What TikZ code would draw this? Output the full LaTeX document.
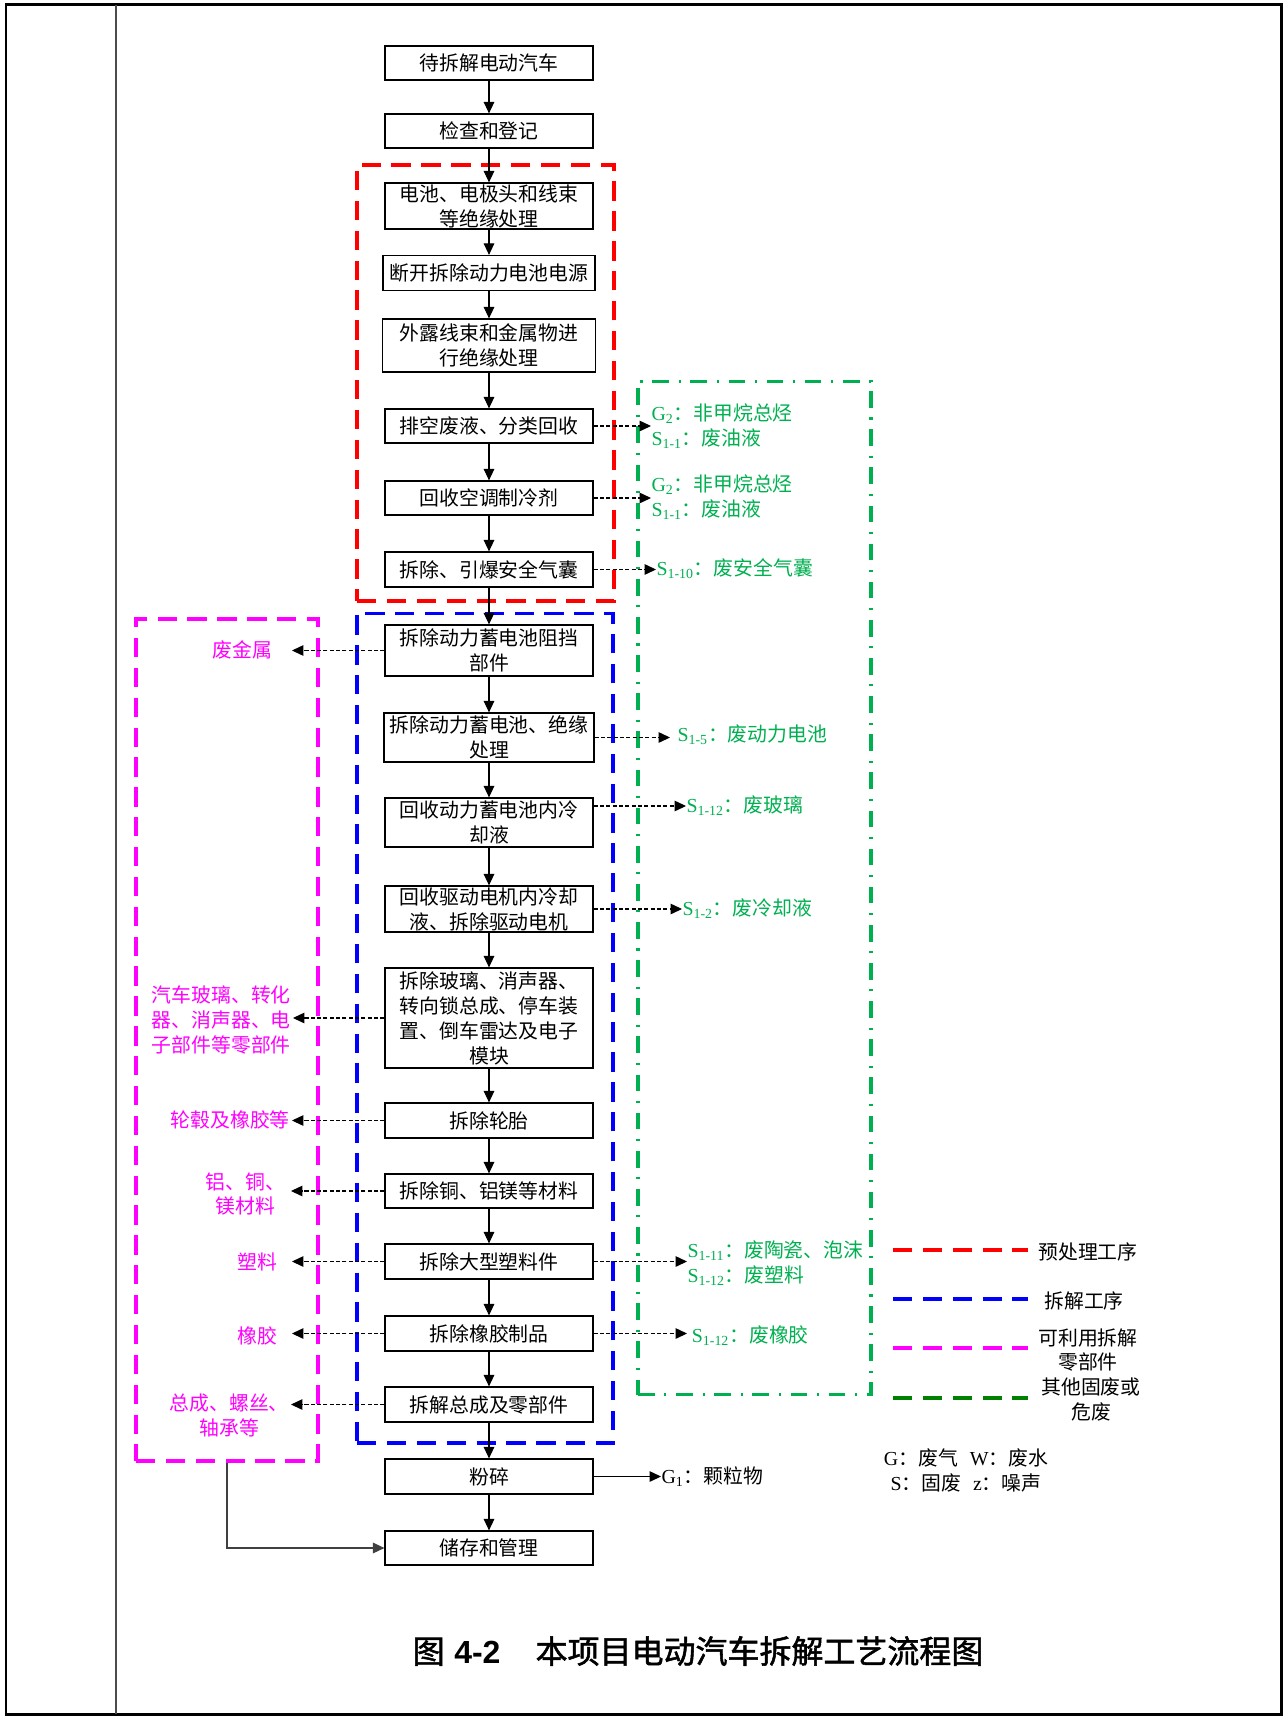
\documentclass[tikz,border=0pt]{standalone}
\usepackage{fontspec}
\setmainfont{Noto Sans CJK SC}
\newfontfamily\tnr{Liberation Serif}
\newfontfamily\arl{Liberation Sans}
\newfontfamily\biaoti{Noto Sans CJK SC}[FakeBold=1.6]
\usetikzlibrary{arrows.meta}
\definecolor{lvse}{RGB}{0,176,80}
\definecolor{shenlv}{RGB}{0,128,0}
\definecolor{pinhong}{RGB}{255,0,255}
\definecolor{zhenghong}{RGB}{255,0,0}
\definecolor{zhenglan}{RGB}{0,0,255}
\newcommand{\Sx}[1]{{\tnr S\textsubscript{#1}}}
\newcommand{\Gx}[1]{{\tnr G\textsubscript{#1}}}
\tikzset{
  gongxu/.style={draw, line width=0.7pt, minimum width=4.16cm, minimum height=0.68cm, inner xsep=1pt, inner ysep=0pt, align=center},
  xuxian/.style={->, dash pattern=on 2.4pt off 1.2pt},
  yuqu/.style={draw=zhenghong, line width=2.2pt, dash pattern=on 11pt off 6pt},
  chaiqu/.style={draw=zhenglan, line width=1.8pt, dash pattern=on 11pt off 6pt},
  liyong/.style={draw=pinhong, line width=2pt, dash pattern=on 11pt off 6pt},
  qita/.style={draw=shenlv, line width=2pt, dash pattern=on 11pt off 6pt},
  guqu/.style={draw=lvse, line width=1.8pt, dash pattern=on 9.5pt off 5.5pt on 1.2pt off 5.5pt},
  fei/.style={text=lvse, align=left, anchor=west, inner sep=0pt},
  ling/.style={text=pinhong, anchor=east, inner sep=1pt}
}
\begin{document}
\begin{tikzpicture}[x=0.02cm, y=-0.02cm, line width=0.6pt,
  >={Triangle[length=6.5pt,width=6pt]}, font=\fontsize{11.3}{14.2}\selectfont]
\useasboundingbox (0,0) rectangle (1287,1719);
% 外框
\draw[line width=1.7pt] (6,5) rectangle (1281,1714);
\draw[line width=1.1pt, black!70] (116,5) -- (116,1714);
% 虚线区域
\node[yuqu, minimum width=5.14cm, minimum height=8.72cm] (yu) at (485.5,383) {};
\node[chaiqu, minimum width=5.12cm, minimum height=16.6cm] (chai) at (485,1028) {};
\node[liyong, minimum width=3.64cm, minimum height=16.84cm] (li) at (227,1040) {};
\node[guqu, minimum width=4.66cm, minimum height=20.28cm] (gu) at (754.5,888) {};
% 工序
\node[gongxu] (b1) at (489,63) {待拆解电动汽车};
\node[gongxu] (b2) at (489,131) {检查和登记};
\node[gongxu, minimum height=0.92cm] (b3) at (489,206) {电池、电极头和线束\\等绝缘处理};
\node[gongxu, minimum width=4.24cm, minimum height=0.7cm] (b4) at (489,273) {断开拆除动力电池电源};
\node[gongxu, minimum width=4.26cm, minimum height=1.06cm] (b5) at (489,345.5) {外露线束和金属物进\\行绝缘处理};
\node[gongxu] (b6) at (489,426) {排空废液、分类回收};
\node[gongxu] (b7) at (489,498) {回收空调制冷剂};
\node[gongxu, minimum height=0.7cm] (b8) at (489,569.5) {拆除、引爆安全气囊};
\node[gongxu, minimum height=1.02cm] (b9) at (489,650.5) {拆除动力蓄电池阻挡\\部件};
\node[gongxu, minimum width=4.2cm, minimum height=0.98cm] (b10) at (489,737.5) {拆除动力蓄电池、绝缘\\处理};
\node[gongxu, minimum height=0.98cm] (b11) at (489,822.5) {回收动力蓄电池内冷\\却液};
\node[gongxu, minimum height=0.92cm] (b12) at (489,909) {回收驱动电机内冷却\\液、拆除驱动电机};
\node[gongxu, minimum height=2cm] (b13) at (489,1018) {拆除玻璃、消声器、\\转向锁总成、停车装\\置、倒车雷达及电子\\模块};
\node[gongxu, minimum height=0.7cm] (b14) at (489,1120.5) {拆除轮胎};
\node[gongxu] (b15) at (489,1191) {拆除铜、铝镁等材料};
\node[gongxu, minimum height=0.7cm] (b16) at (489,1261.5) {拆除大型塑料件};
\node[gongxu, minimum height=0.7cm] (b17) at (489,1333.5) {拆除橡胶制品};
\node[gongxu, minimum height=0.7cm] (b18) at (489,1404.5) {拆解总成及零部件};
\node[gongxu, minimum height=0.7cm] (b19) at (489,1476.5) {粉碎};
\node[gongxu] (b20) at (489,1548) {储存和管理};
% 主流程箭头
\draw[->] (b1) -- (b2);
\draw[->] (b2) -- (b3);
\draw[->] (b3) -- (b4);
\draw[->] (b4) -- (b5);
\draw[->] (b5) -- (b6);
\draw[->] (b6) -- (b7);
\draw[->] (b7) -- (b8);
\draw[->] (b8) -- (b9);
\draw[->] (b9) -- (b10);
\draw[->] (b10) -- (b11);
\draw[->] (b11) -- (b12);
\draw[->] (b12) -- (b13);
\draw[->] (b13) -- (b14);
\draw[->] (b14) -- (b15);
\draw[->] (b15) -- (b16);
\draw[->] (b16) -- (b17);
\draw[->] (b17) -- (b18);
\draw[->] (b18) -- (b19);
\draw[->] (b19) -- (b20);
% 可利用零部件
\node[ling, inner xsep=11pt] (l9) at (292,650) {废金属};
\node[ling, align=left] (l13) at (293,1020) {汽车玻璃、转化\\器、消声器、电\\子部件等零部件};
\node[ling] (l14) at (292,1120) {轮毂及橡胶等};
\node[ling, align=center, inner xsep=3pt] (l15) at (291,1194) {铝、铜、\\镁材料};
\node[ling, inner xsep=8pt] (l16) at (292,1262) {塑料};
\node[ling, inner xsep=8pt] (l17) at (292,1336) {橡胶};
\node[ling, align=center] (l18) at (291,1415) {总成、螺丝、\\轴承等};
\draw[xuxian] (b9.west) -- (b9.west -| l9.east);
\draw[xuxian] (b13.west) -- (b13.west -| l13.east);
\draw[xuxian] (b14.west) -- (b14.west -| l14.east);
\draw[xuxian] (b15.west) -- (b15.west -| l15.east);
\draw[xuxian] (b16.west) -- (b16.west -| l16.east);
\draw[xuxian] (b17.west) -- (b17.west -| l17.east);
\draw[xuxian] (b18.west) -- (b18.west -| l18.east);
\draw[->, black!75] (li.south) |- (b20.west);
% 污染物
\node[fei] (g6) at (651,426) {\Gx{2}：非甲烷总烃\\ \Sx{1-1}：废油液};
\node[fei] (g7) at (651,497.5) {\Gx{2}：非甲烷总烃\\ \Sx{1-1}：废油液};
\node[fei] (g8) at (656,569) {\Sx{1-10}：废安全气囊};
\node[fei, inner xsep=4pt] (g10) at (670,735) {\Sx{1-5}：废动力电池};
\node[fei] (g11) at (686,806) {\Sx{1-12}：废玻璃};
\node[fei] (g12) at (682,909) {\Sx{1-2}：废冷却液};
\node[fei] (g16) at (687,1263) {\Sx{1-11}：废陶瓷、泡沫\\ \Sx{1-12}：废塑料};
\node[fei, inner xsep=2.5pt] (g17) at (687,1336) {\Sx{1-12}：废橡胶};
\node[fei, text=black] (g19) at (661,1477) {\Gx{1}：颗粒物};
\draw[xuxian] (b6.east) -- (b6.east -| g6.west);
\draw[xuxian] (b7.east) -- (b7.east -| g7.west);
\draw[xuxian] (b8.east) -- (b8.east -| g8.west);
\draw[xuxian] (b10.east) -- (b10.east -| g10.west);
\draw[xuxian] (g11.west -| b11.east) -- (g11.west);
\draw[xuxian] (b12.east) -- (b12.east -| g12.west);
\draw[xuxian] (b16.east) -- (b16.east -| g16.west);
\draw[xuxian] (b17.east) -- (b17.east -| g17.west);
\draw[->] (b19.east) -- (b19.east -| g19.west);
% 图例
\draw[yuqu] (893,1250) -- (1028,1250);
\node[anchor=west] (t1) at (1032,1252) {预处理工序};
\draw[chaiqu] (893,1299) -- (1028,1299);
\node[anchor=west] (t2) at (1038,1301) {拆解工序};
\draw[liyong] (893,1348) -- (1028,1348);
\node[align=center] (t3) at (1088,1350) {可利用拆解\\零部件};
\draw[qita] (893,1398) -- (1028,1398);
\node[align=center] (t4) at (1091,1399) {其他固废或\\危废};
\node[align=center] (t5) at (966,1470.5) {{\tnr G}：废气\hspace{0.6em}{\tnr W}：废水\\{\tnr S}：固废\hspace{0.6em}{\tnr z}：噪声};
% 图名
\node[font=\fontsize{18.2}{22}\selectfont\biaoti] (tt) at (698,1651) {图\hspace{0.3em}{\arl\bfseries 4-2}\hspace{1.1em}本项目电动汽车拆解工艺流程图};
\end{tikzpicture}
\end{document}
